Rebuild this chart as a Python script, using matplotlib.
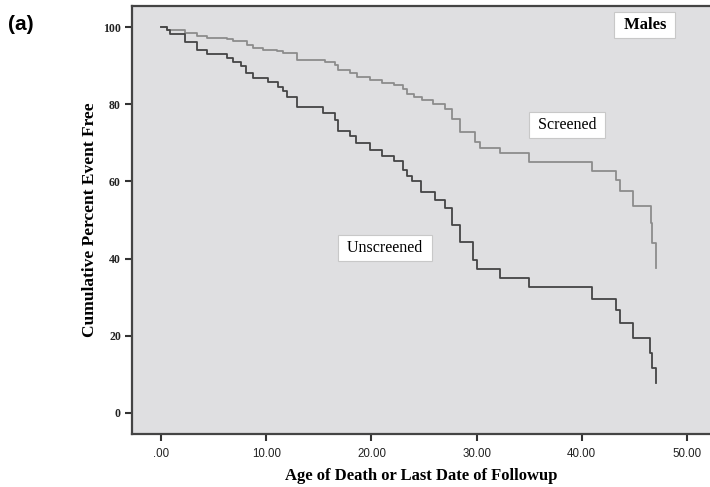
import numpy as np
import matplotlib.pyplot as plt

# Kaplan-Meier step data (time, percent after the drop)
screened_t = [0, 0.57, 2.28, 3.42, 4.37, 6.27, 6.84, 8.17, 8.75, 9.70, 11.0, 11.6,
              12.9, 15.6, 16.5, 16.8, 18.0, 18.6, 19.9, 21.0, 22.1, 23.0, 23.4,
              24.0, 24.8, 25.9, 27.0, 27.7, 28.4, 29.8, 30.3, 32.2, 35.0, 41.0,
              43.3, 43.6, 44.9, 46.6, 46.7, 47.1]
screened_y = [100, 99.4, 98.4, 97.8, 97.2, 97.0, 96.4, 95.5, 94.6, 94.2, 93.8, 93.2,
              91.5, 90.9, 90.2, 88.9, 88.0, 87.1, 86.4, 85.6, 85.0, 84.1, 82.8,
              81.9, 81.1, 80.2, 78.9, 76.3, 72.9, 70.3, 68.6, 67.3, 65.1, 62.8,
              60.4, 57.5, 53.6, 49.1, 44.1, 37.6]

unscreened_t = [0, 0.57, 0.86, 2.28, 3.42, 4.37, 6.27, 6.84, 7.6, 8.1, 8.75, 10.2,
                11.1, 11.6, 12.0, 12.9, 15.4, 16.5, 16.8, 18.0, 18.5, 19.9, 21.0,
                22.1, 23.0, 23.4, 23.9, 24.7, 26.0, 27.0, 27.7, 28.4, 29.7, 30.0,
                32.2, 35.0, 41.0, 43.3, 43.6, 44.9, 46.5, 46.7, 47.1]
unscreened_y = [100, 99.4, 98.2, 96.2, 94.2, 93.1, 92.1, 91.1, 90.0, 88.1, 86.7, 85.9,
                84.6, 83.4, 82.0, 79.4, 77.7, 76.0, 73.0, 71.7, 69.9, 68.2, 66.5,
                65.2, 63.0, 61.3, 60.0, 57.3, 55.2, 53.1, 48.8, 44.2, 39.6, 37.3,
                35.0, 32.5, 29.5, 26.6, 23.3, 19.5, 15.5, 11.6, 7.7]

xticks = [0, 10, 20, 30, 40, 50]
xtick_labels = ['.00', '10.00', '20.00', '30.00', '40.00', '50.00']
yticks = [0, 20, 40, 60, 80, 100]

serif = ['Liberation Serif', 'DejaVu Serif']
sans = ['Liberation Sans', 'DejaVu Sans']

fig = plt.figure(figsize=(7.1, 4.87), dpi=100)
ax = fig.add_axes([0.186, 0.1088, 0.814, 0.8789])
ax.set_facecolor('#dfdfe1')

ax.plot(screened_t, screened_y, drawstyle='steps-post', color='#8c8c8c', lw=1.3)
ax.plot(unscreened_t, unscreened_y, drawstyle='steps-post', color='#454545', lw=1.3)

ax.set_xlim(-2.76, 52.19)
ax.set_ylim(-5.5, 105.5)

ax.set_xticks(xticks)
ax.set_xticklabels(xtick_labels, fontfamily=sans, fontsize=8.3)
ax.set_yticks(yticks)
ax.set_yticklabels([str(v) for v in yticks], fontfamily=serif, fontsize=8.5,
                   fontweight='bold')
ax.tick_params(axis='both', direction='out', length=5, width=1.5, color='#333333',
               labelcolor='#222222')
ax.tick_params(axis='x', pad=5)
ax.tick_params(axis='y', pad=3)

for side in ['left', 'bottom', 'top']:
    ax.spines[side].set_linewidth(1.6)
    ax.spines[side].set_color('#444444')
ax.spines['right'].set_visible(False)

ax.set_xlabel('Age of Death or Last Date of Followup', fontfamily=serif,
              fontsize=12, fontweight='bold', labelpad=6)
ax.set_ylabel('Cumulative Percent Event Free', fontfamily=serif, fontsize=12.5,
              fontweight='bold', labelpad=4)

box = dict(boxstyle='square,pad=0.32', facecolor='white', edgecolor='#c8c8c8', lw=0.8)
ax.text(46.0, 100.6, ' Males ', fontfamily=serif, fontsize=12, fontweight='bold',
        ha='center', va='center', bbox=box)
ax.text(38.6, 74.6, ' Screened ', fontfamily=serif, fontsize=11.5,
        ha='center', va='center', bbox=box)
ax.text(21.3, 42.7, ' Unscreened ', fontfamily=serif, fontsize=11.5,
        ha='center', va='center', bbox=box)

fig.text(0.011, 0.95, '(a)', fontfamily=sans, fontsize=15, fontweight='bold',
         ha='left', va='center')

fig.savefig('out.png', dpi=100)
